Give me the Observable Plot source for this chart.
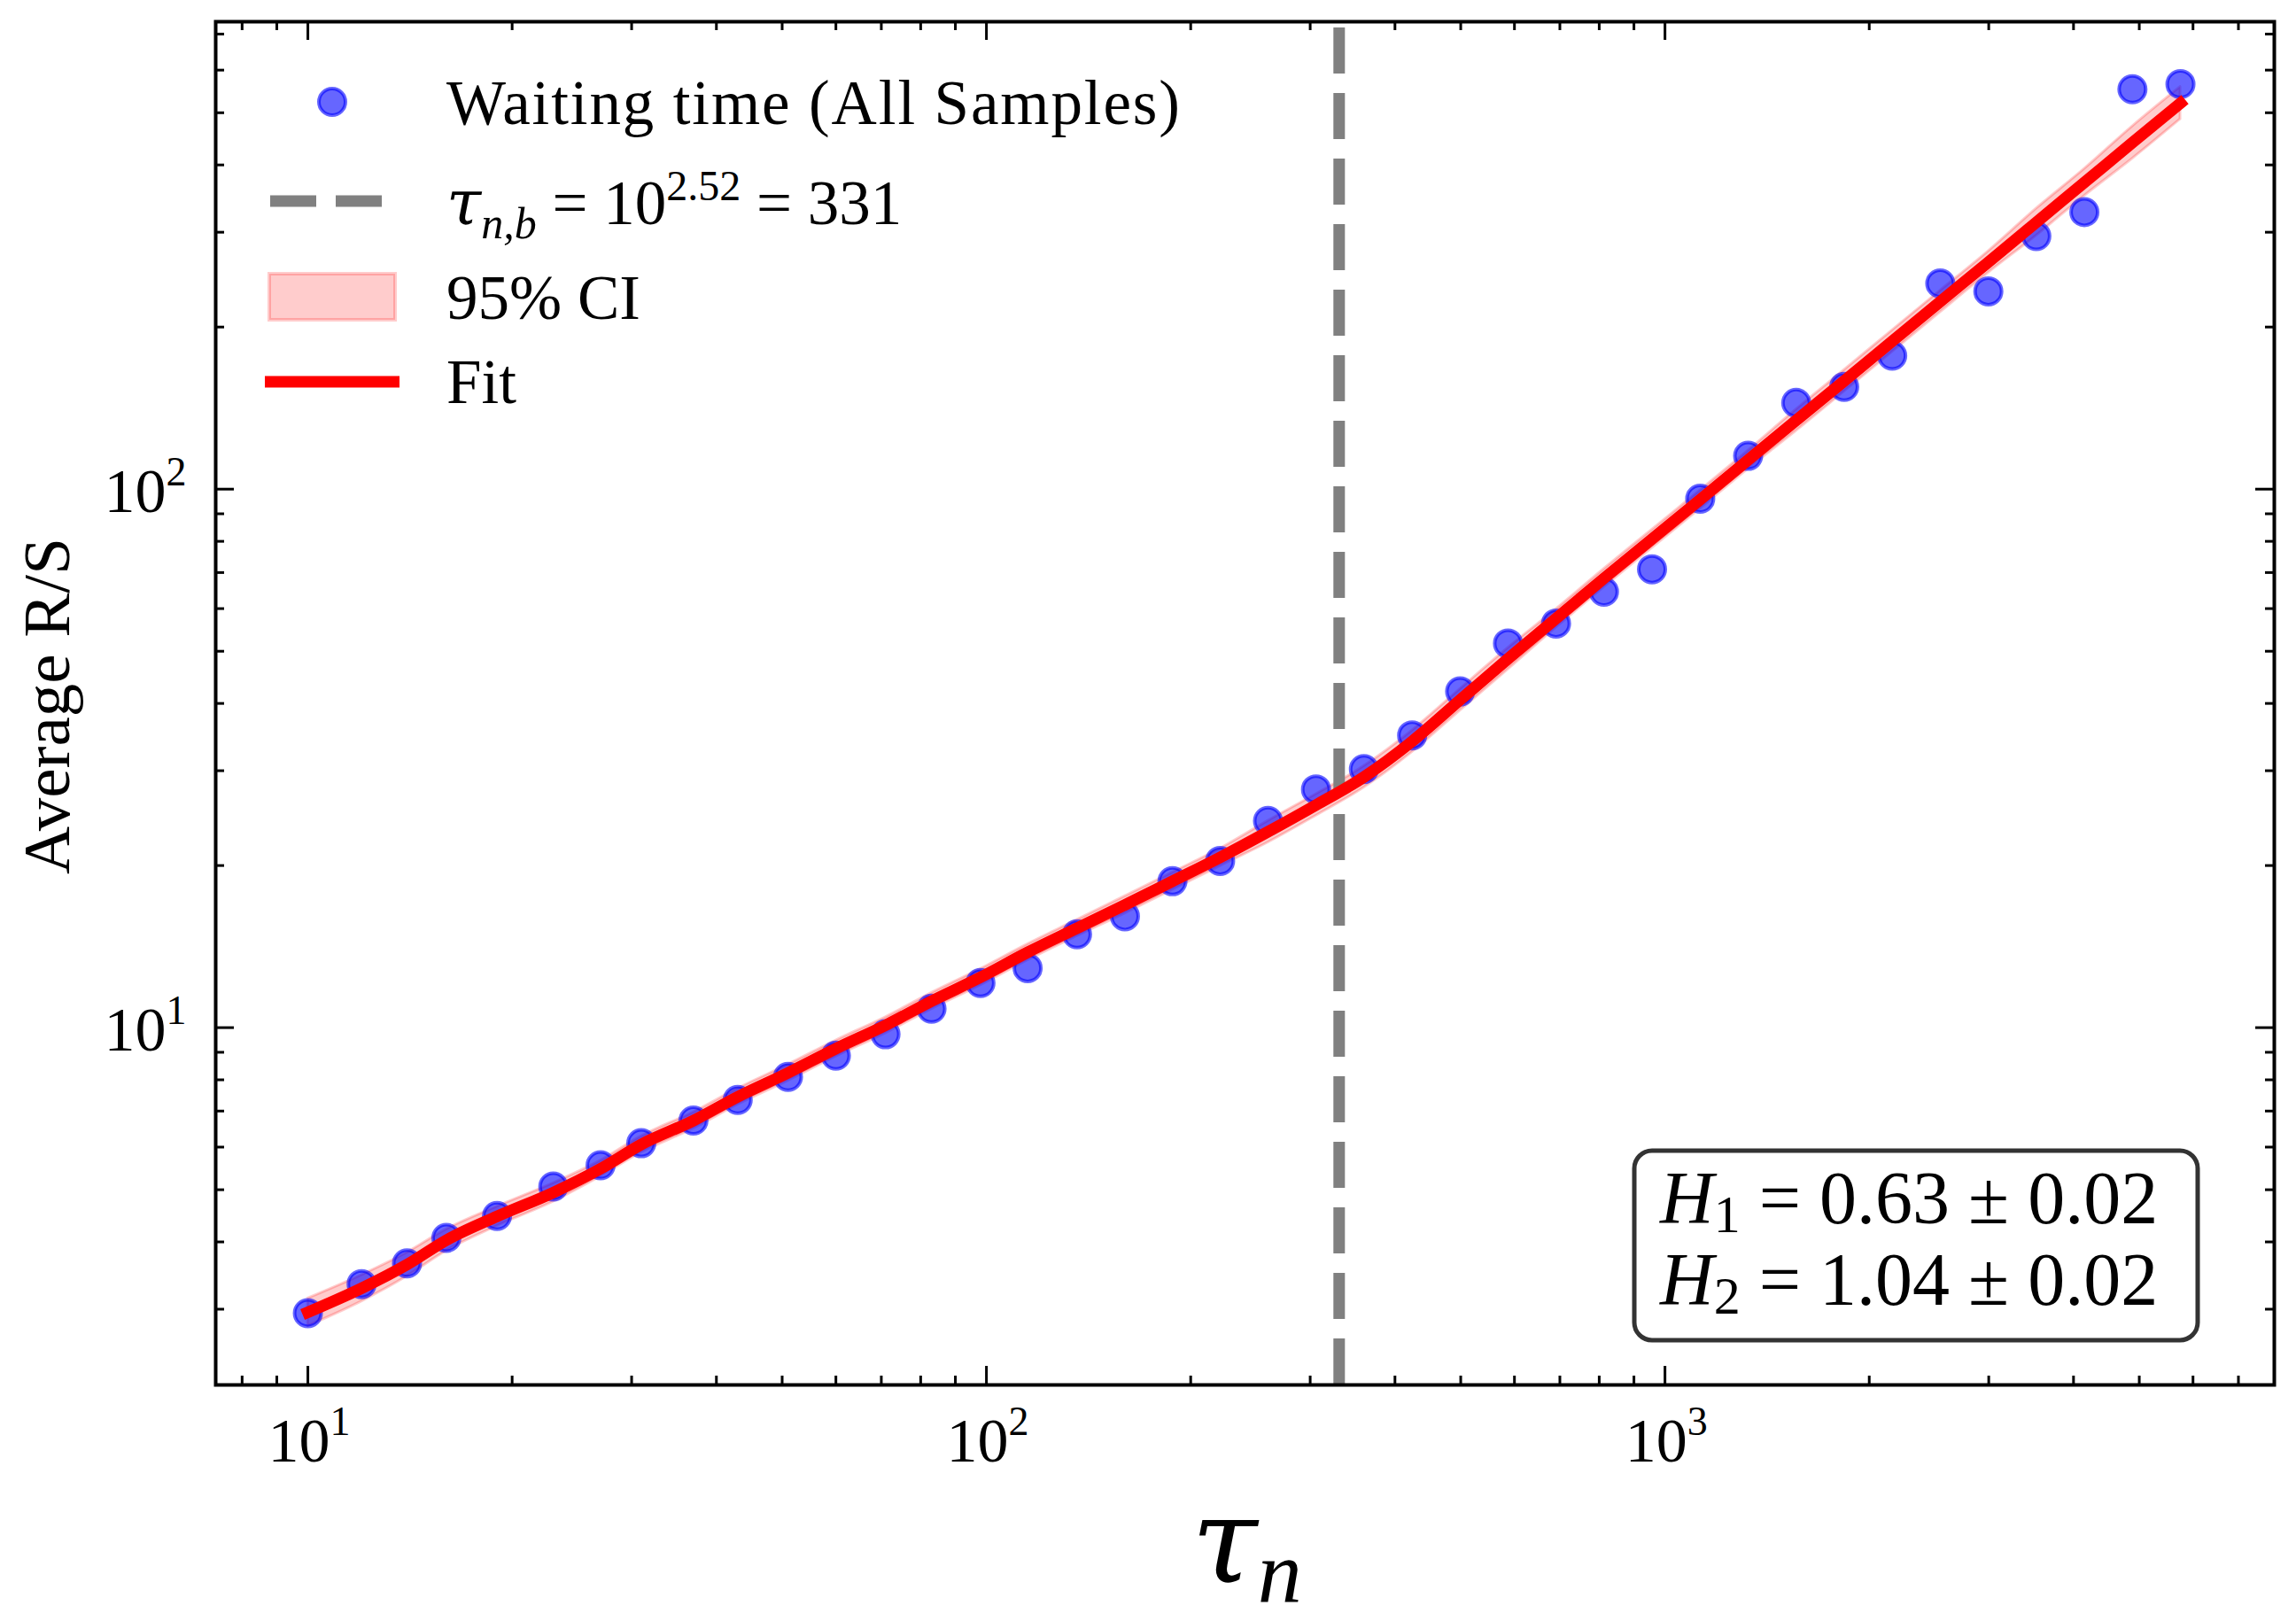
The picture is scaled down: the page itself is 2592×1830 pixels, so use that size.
<!DOCTYPE html>
<html><head><meta charset="utf-8">
<script src="https://cdn.jsdelivr.net/npm/d3@7"></script>
<script src="https://cdn.jsdelivr.net/npm/@observablehq/plot@0.6"></script>
<style>html,body{margin:0;padding:0;background:#fff;} svg{display:block}</style>
</head><body><div id="chart"></div>
<script>
// ---- data ----
const tau = [10,12,14,16,19,23,27,31,37,43,51,60,71,83,98,115,136,160,188,221,260,306,360,424,499,587,691,813,957,1127,1326,1561,1837,2162,2545,2996,3526,4150,4885,5750];
const avgRS = [2.95,3.34,3.65,4.07,4.47,5.07,5.55,6.10,6.72,7.34,8.10,8.87,9.72,10.84,12.1,12.9,14.9,16.1,18.7,20.4,24.2,27.7,30.2,34.9,42.1,51.7,56.3,64.5,71.0,96.0,115.3,144.6,154.8,177,241,233,295,327,553,565];
const fitRS = [2.96,3.28,3.63,4.03,4.46,4.94,5.47,6.07,6.72,7.44,8.24,9.14,10.1,11.2,12.4,13.8,15.3,16.9,18.7,20.7,23.1,25.9,29.2,34.0,40.6,48.4,57.5,68.3,80.8,95.6,113.3,134.2,158.8,188.2,223,264,313,371,440,521];
const ciLow = [2.79,3.10,3.45,3.85,4.28,4.75,5.29,5.86,6.49,7.19,7.96,8.83,9.76,10.82,11.98,13.33,14.78,16.29,18.02,19.95,22.06,24.74,27.89,32.47,38.78,46.23,55.29,65.68,77.70,91.93,108.95,128.2,151.7,179.7,213.0,252.1,295.5,350.2,410.6,486.2];
const ciHigh = [3.14,3.47,3.82,4.22,4.65,5.14,5.66,6.28,6.96,7.70,8.53,9.46,10.45,11.59,12.84,14.28,15.84,17.53,19.40,21.48,24.19,27.12,30.57,35.60,42.51,50.67,59.79,71.03,84.02,99.41,117.82,140.5,166.3,197.1,233.5,276.4,331.6,393.0,471.5,558.3];
const breakTau = 331;
const xMajor = [10,100,1000];
const xMinor = [8,9,20,30,40,50,60,70,80,90,200,300,400,500,600,700,800,900,2000,3000,4000,5000,6000,7000];
const yMajor = [10,100];
const yMinor = [3,4,5,6,7,8,9,20,30,40,50,60,70,80,90,200,300,400,500,600,700];
const tickBase = "10";
const xTickExp = ["1","2","3"];
const yTickExp = ["1","2"];
const legendLabels = ["Waiting time (All Samples)", "95% CI", "Fit"];
const H1 = "0.63", H2 = "1.04", Herr = "0.02";
const breakExp = "2.52";

// ---- layout ----
const W = 2592, H = 1830, mL = 243, mR = 25, mT = 24, mB = 267;
const innerW = W - mL - mR, innerH = H - mT - mB;
const font = "'Liberation Serif','Times New Roman',serif";
const mathFont = "'DejaVu Serif','Liberation Serif',serif";
const rows = tau.map((t, i) => ({tau: t, rs: avgRS[i], fit: fitRS[i], lo: ciLow[i], hi: ciHigh[i]}));
const tk = {stroke: "black", strokeWidth: 3, strokeLinecap: "butt"};

const chart = Plot.plot({
  width: W, height: H, marginLeft: mL, marginRight: mR, marginTop: mT, marginBottom: mB,
  style: {fontFamily: font, background: "white", overflow: "visible", color: "black"},
  x: {type: "log", domain: [7.314, 7906], axis: null},
  y: {type: "log", domain: [2.17, 738], axis: null},
  marks: [
    Plot.areaY(rows, {x: "tau", y1: "lo", y2: "hi", fill: "red", fillOpacity: 0.2, stroke: "red", strokeOpacity: 0.2, strokeWidth: 3, curve: "monotone-x"}),
    Plot.ruleX([breakTau], {x: d => d, stroke: "#808080", strokeWidth: 13, strokeDasharray: "52,22", strokeDashoffset: 67}),
    Plot.dot(rows, {x: "tau", y: "rs", r: 15, fill: "blue", fillOpacity: 0.6, stroke: "blue", strokeOpacity: 0.6, strokeWidth: 4}),
    Plot.line(rows, {x: "tau", y: "fit", stroke: "red", strokeWidth: 13, strokeLinecap: "square", strokeLinejoin: "round", curve: "monotone-x"}),
    Plot.tickX(xMajor, {x: d => d, insetTop: innerH - 21, ...tk}),
    Plot.tickX(xMajor, {x: d => d, insetBottom: innerH - 21, ...tk}),
    Plot.tickX(xMinor, {x: d => d, insetTop: innerH - 10, ...tk}),
    Plot.tickX(xMinor, {x: d => d, insetBottom: innerH - 10, ...tk}),
    Plot.tickY(yMajor, {y: d => d, insetLeft: innerW - 21, ...tk}),
    Plot.tickY(yMajor, {y: d => d, insetRight: innerW - 21, ...tk}),
    Plot.tickY(yMinor, {y: d => d, insetLeft: innerW - 10, ...tk}),
    Plot.tickY(yMinor, {y: d => d, insetRight: innerW - 10, ...tk}),
    Plot.frame({stroke: "black", strokeWidth: 4}),
    Plot.text(xMajor, {x: d => d, frameAnchor: "bottom", text: () => tickBase, textAnchor: "end", lineAnchor: "bottom", dx: 25, dy: 86, fontSize: 70, fill: "black"}),
    Plot.text(xMajor, {x: d => d, frameAnchor: "bottom", text: (d, i) => xTickExp[i], textAnchor: "start", lineAnchor: "bottom", dx: 25, dy: 56, fontSize: 46, fill: "black"}),
    Plot.text(yMajor, {y: d => d, frameAnchor: "left", text: () => tickBase, textAnchor: "end", lineAnchor: "bottom", dx: -56, dy: 26, fontSize: 70, fill: "black"}),
    Plot.text(yMajor, {y: d => d, frameAnchor: "left", text: (d, i) => yTickExp[i], textAnchor: "start", lineAnchor: "bottom", dx: -56, dy: -4, fontSize: 46, fill: "black"})
  ]
});
document.getElementById("chart").appendChild(chart);

// ---- overlays: legend, annotation, axis labels ----
const svg = d3.select(chart);
const g = svg.append("g").attr("font-family", font).attr("fill", "black").attr("text-anchor", "start");

function richText(parent, x, y, parts, size, anchor) {
  const t = parent.append("text").attr("x", x).attr("y", y).attr("font-size", size).attr("text-anchor", anchor || "start");
  let shift = 0;
  for (const p of parts) {
    const s = t.append("tspan").text(p.t);
    if (p.italic) s.attr("font-style", "italic");
    if (p.family) s.attr("font-family", p.family);
    if (p.size) s.attr("font-size", p.size);
    if (p.x !== undefined) s.attr("x", p.x);
    const target = p.shift || 0;
    if (p.newline) { s.attr("dy", p.newline + target - shift); shift = target; }
    else if (target !== shift) { s.attr("dy", target - shift); shift = target; }
  }
  return t;
}

// legend
g.append("circle").attr("cx", 375).attr("cy", 115).attr("r", 15)
  .attr("fill", "blue").attr("fill-opacity", 0.6).attr("stroke", "blue").attr("stroke-opacity", 0.6).attr("stroke-width", 4);
g.append("text").attr("x", 504).attr("y", 140).attr("font-size", 71)
  .attr("textLength", 828).attr("lengthAdjust", "spacing").text(legendLabels[0]);
g.append("line").attr("x1", 305).attr("x2", 431).attr("y1", 227).attr("y2", 227)
  .attr("stroke", "#808080").attr("stroke-width", 13).attr("stroke-dasharray", "52,22");
richText(g, 504, 253, [
  {t: "τ", italic: true, family: mathFont},
  {t: "n,b", italic: true, size: 50, shift: 16},
  {t: " = 10", shift: 0},
  {t: breakExp, size: 48, shift: -27},
  {t: " = " + breakTau, shift: 0}
], 71);
g.append("rect").attr("x", 304).attr("y", 309).attr("width", 142).attr("height", 52)
  .attr("fill", "red").attr("fill-opacity", 0.2).attr("stroke", "red").attr("stroke-opacity", 0.2).attr("stroke-width", 4);
g.append("text").attr("x", 504).attr("y", 360).attr("font-size", 71).text(legendLabels[1]);
g.append("line").attr("x1", 299).attr("x2", 451).attr("y1", 431).attr("y2", 431)
  .attr("stroke", "red").attr("stroke-width", 13);
g.append("text").attr("x", 504).attr("y", 455).attr("font-size", 71).text(legendLabels[2]);

// annotation box (both lines in one text element)
g.append("rect").attr("x", 1845).attr("y", 1299).attr("width", 636).attr("height", 214).attr("rx", 20)
  .attr("fill", "white").attr("stroke", "#333").attr("stroke-width", 5);
richText(g, 1874, 1381, [
  {t: "H", italic: true},
  {t: "1", size: 60, shift: 10},
  {t: " = " + H1 + " ± " + Herr, shift: 0},
  {t: "H", italic: true, x: 1874, newline: 92},
  {t: "2", size: 60, shift: 10},
  {t: " = " + H2 + " ± " + Herr, shift: 0}
], 84);

// axis labels
richText(g, 1345, 1786, [
  {t: "τ", italic: true, family: mathFont},
  {t: "n", italic: true, size: 100, shift: 22}
], 135);
g.append("text").attr("transform", "translate(78,797) rotate(-90)").attr("text-anchor", "middle")
  .attr("font-size", 75).text("Average R/S");
</script>
</body></html>
